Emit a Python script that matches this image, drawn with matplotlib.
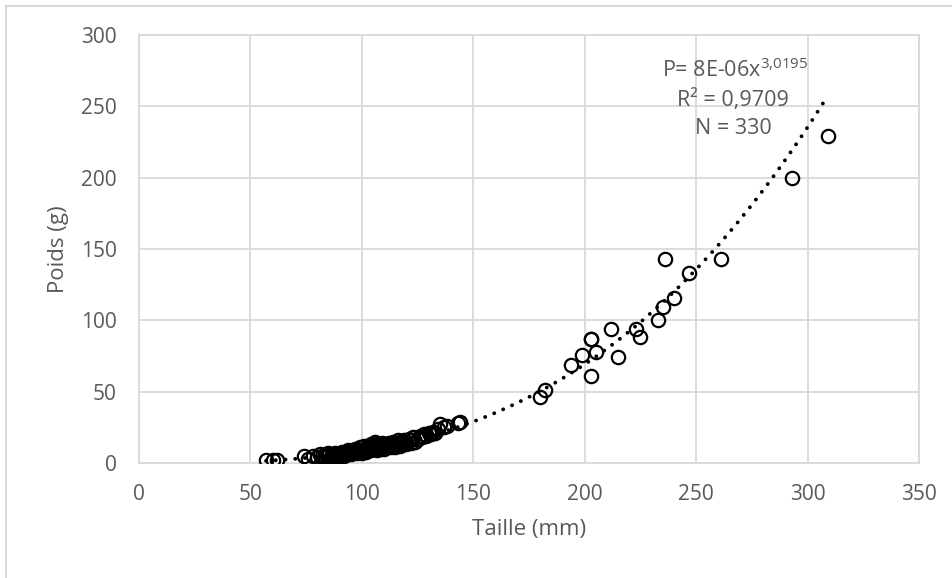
import numpy as np
import matplotlib
matplotlib.use("Agg")
import matplotlib.pyplot as plt
from matplotlib.lines import Line2D

plt.rcParams['font.family'] = ['Open Sans', 'DejaVu Sans']
plt.rcParams['mathtext.fontset'] = 'custom'
plt.rcParams['mathtext.rm'] = 'Open Sans'
plt.rcParams['mathtext.it'] = 'Open Sans'

# Taille (mm) / Poids (g)
taille = [57, 60, 62, 74, 76, 78, 80, 81, 82, 83, 84, 85, 85, 86, 87, 87, 88, 88, 89, 90,
          90, 91, 91, 92, 92, 93, 93, 94, 94, 95, 95, 96, 96, 97, 97, 98, 98, 99, 99, 100,
          100, 101, 101, 102, 102, 103, 103, 104, 104, 105, 105, 106, 106, 107, 107, 108, 108,
          109, 109, 110, 110, 111, 111, 112, 112, 113, 113, 114, 114, 115, 115, 116, 116, 117,
          117, 118, 118, 119, 120, 120, 121, 122, 122, 123, 124, 125, 126, 127, 128, 129, 130,
          131, 132, 133, 134, 135, 137, 138, 143, 144,
          180, 182, 194, 199, 203, 203, 205, 203, 212, 215, 223, 225, 233, 235, 236, 240,
          247, 261, 293, 309]
poids = [2, 2, 2, 5, 3, 5, 4, 6, 5, 4, 6, 5, 7, 4, 6, 5, 7, 4, 6, 5,
         7, 8, 6, 5, 7, 8, 6, 7, 9, 6, 8, 7, 9, 8, 10, 7, 9, 8, 11, 9,
         7, 10, 12, 8, 9, 11, 10, 9, 13, 10, 12, 11, 15, 9, 13, 12, 10,
         11, 14, 12, 10, 13, 11, 12, 14, 11, 13, 15, 12, 13, 11, 14, 16, 12,
         15, 14, 13, 16, 15, 13, 17, 16, 14, 18, 15, 17, 19, 18, 20, 19, 21,
         20, 22, 21, 24, 27, 25, 26, 28, 29,
         46, 51, 69, 76, 87, 61, 78, 87, 94, 74, 94, 88, 100, 109, 143, 116,
         133, 143, 200, 229]

# courbe de tendance puissance (coefficient affiché arrondi à 8E-06)
coef_a = 7.8e-06
coef_b = 3.0195
eq_txt = r"P= 8E-06x$^{3{,}0195}$"
r2_txt = "0,9709"
n_txt = "330"

xt = np.linspace(min(taille), max(taille), 300)
yt = coef_a * xt ** coef_b

fig = plt.figure(figsize=(9.53, 5.78), dpi=100)
ax = fig.add_axes([139/953, 1 - 463/578, (919-139)/953, (463-35)/578])

grid_col = '#d9d9d9'
txt_col = '#595959'

ax.plot(taille, poids, 'o', mfc='none', mec='black', ms=9.6, mew=1.6, zorder=3)
ax.plot(xt, yt, color='black', lw=2.8, linestyle=(0, (0.01, 2.5)),
        dash_capstyle='round', zorder=4)

ax.set_xlim(0, 350)
ax.set_ylim(0, 300)
ax.set_xticks(np.arange(0, 351, 50))
ax.set_yticks(np.arange(0, 301, 50))
ax.grid(True, color=grid_col, lw=1.3)
ax.set_axisbelow(True)
for s in ax.spines.values():
    s.set_color(grid_col)
    s.set_linewidth(1.3)
ax.tick_params(length=0, labelsize=15, colors=txt_col)
ax.tick_params(axis='y', pad=16)
ax.tick_params(axis='x', pad=15)

ax.set_xlabel("Taille (mm)", fontsize=16, color=txt_col, va='center')
ax.set_ylabel("Poids (g)", fontsize=16, color=txt_col, va='center')
ax.xaxis.set_label_coords(0.5, (463 - 530) / 428)
ax.yaxis.set_label_coords((59 - 139) / 780, 0.5)

ax.text(735/953, 1 - 70/578, eq_txt, transform=fig.transFigure,
        ha='center', va='center', fontsize=15.5, color=txt_col)
ax.text(733/953, 1 - 100/578, "R² = " + r2_txt, transform=fig.transFigure,
        ha='center', va='center', fontsize=15.5, color=txt_col)
ax.text(733/953, 1 - 129/578, "N = " + n_txt, transform=fig.transFigure,
        ha='center', va='center', fontsize=15.5, color=txt_col)

# cadre du graphique
fig.add_artist(Line2D([6/953, 6/953], [0, 1 - 6/578], color=grid_col, lw=1.5))
fig.add_artist(Line2D([6/953, 1], [1 - 6/578, 1 - 6/578], color=grid_col, lw=1.5))

fig.savefig("out.png", dpi=100)
